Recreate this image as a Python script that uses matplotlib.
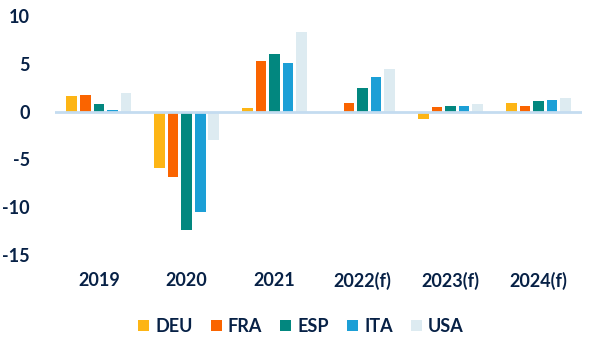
import matplotlib
matplotlib.use("Agg")
import matplotlib.pyplot as plt
import numpy as np

# dados
anos = ["2019", "2020", "2021", "2022(f)", "2023(f)", "2024(f)"]
paises = ["DEU", "FRA", "ESP", "ITA", "USA"]
deu = [1.6, -5.9, 0.35, 0.0, -0.75, 0.95]
fra = [1.7, -6.85, 5.25, 0.85, 0.45, 0.55]
esp = [0.8, -12.4, 6.0, 2.5, 0.55, 1.1]
ita = [0.2, -10.5, 5.05, 3.6, 0.55, 1.2]
usa = [1.9, -2.95, 8.3, 4.5, 0.75, 1.4]
series = [deu, fra, esp, ita, usa]

cores = ["#FDB515", "#FA6400", "#02877F", "#1C9FD6", "#DDEBF1"]
azul = "#072146"

plt.rcParams['font.family'] = ['Lato', 'DejaVu Sans']

fig = plt.figure(figsize=(5.96, 3.47), dpi=100)
ax = fig.add_axes([0.092, 0.265, 0.885, 0.689])

x = np.arange(len(anos))
largura = 0.12
passo = 0.154
for i, (nome, vals) in enumerate(zip(paises, series)):
    ax.bar(x + (i - 2) * passo, vals, width=largura, color=cores[i], label=nome, zorder=2)

ax.axhline(0, color="#C4DCF0", lw=2, zorder=3)

ax.set_xlim(-0.5, len(anos) - 0.5)
ax.set_ylim(-15, 10)
ax.set_yticks([-15, -10, -5, 0, 5, 10])
ax.set_yticklabels(["-15", "-10", "-5", "0", "5", "10"])
ax.set_xticks(x)
ax.set_xticklabels(anos)
ax.tick_params(axis="both", length=0, labelsize=13, labelcolor=azul)
ax.tick_params(axis="y", pad=18)
ax.tick_params(axis="x", pad=12)
for s in ax.spines.values():
    s.set_visible(False)
for t in ax.get_xticklabels() + ax.get_yticklabels():
    t.set_fontweight("bold")

leg = fig.legend(loc="lower center", bbox_to_anchor=(0.505, -0.012), ncol=5, frameon=False,
                 handlelength=0.6, handleheight=0.6, handletextpad=0.35, columnspacing=1.0,
                 prop={"size": 13, "weight": "bold"})
for t in leg.get_texts():
    t.set_color(azul)

fig.savefig("out.png", dpi=100)
